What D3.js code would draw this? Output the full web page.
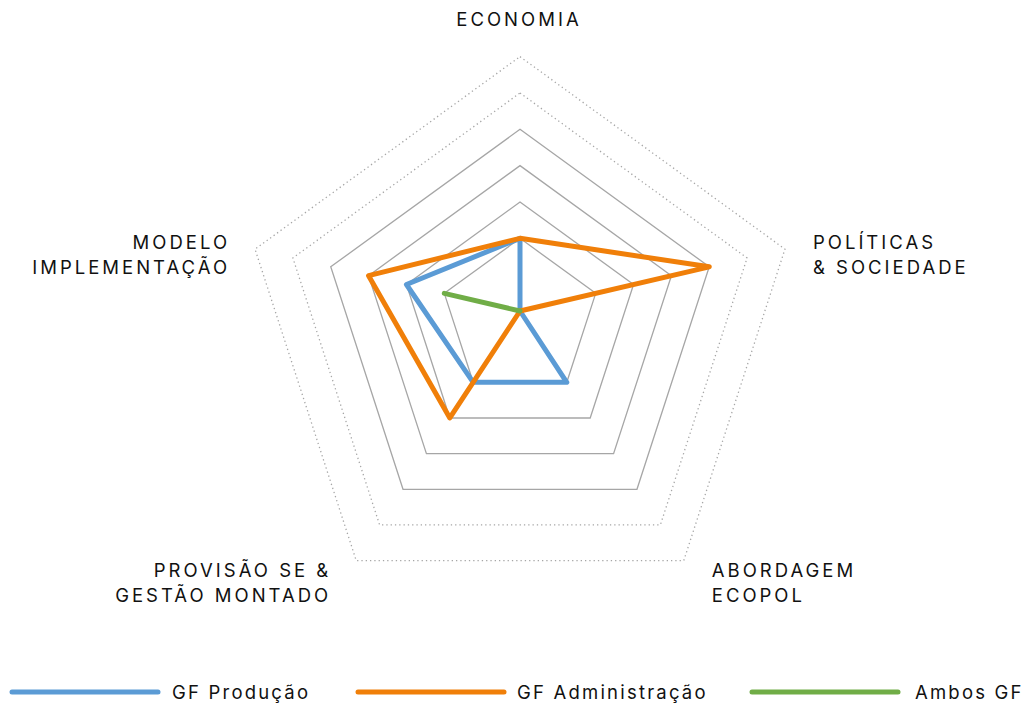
<!DOCTYPE html>
<html>
<head>
<meta charset="utf-8">
<script src="https://cdn.jsdelivr.net/npm/d3@7"></script>
<style>
  body { margin: 0; background: #fff; }
  text { font-family: Inter, "Noto Sans", sans-serif; fill: #111; }
</style>
</head>
<body>
<script>
var width = 1032, height = 708;

// axes, clockwise from the top
var categories = ["ECONOMIA", "POLÍTICAS & SOCIEDADE", "ABORDAGEM ECOPOL", "PROVISÃO SE & GESTÃO MONTADO", "MODELO IMPLEMENTAÇÃO"];
var categoryLines = [["ECONOMIA"], ["POLÍTICAS", "& SOCIEDADE"], ["ABORDAGEM", "ECOPOL"], ["PROVISÃO SE &", "GESTÃO MONTADO"], ["MODELO", "IMPLEMENTAÇÃO"]];

var seriesNames = ["GF Produção", "GF Administração", "Ambos GF"];
var seriesColors = ["#5b9bd5", "#f07f09", "#70ad47"];
var gfProducao = [2, 0, 2, 2, 3];
var gfAdministracao = [2, 5, 0, 3, 4];
var ambosGF = [0, 0, 0, 0, 2];

var gridLevels = [2, 3, 4, 5, 6, 7];
var dottedLevels = [6, 7];

var cx = 520, cy = 311;
var drift = 0.087; // the rings sit a little lower as they grow

var r = d3.scaleLinear().domain([0, 7]).range([0, 278.6]);
var angle = d3.scaleLinear().domain([0, categories.length]).range([0, 2 * Math.PI]);

function pt(v, i) {
    var R = r(v), a = angle(i);
    return [cx + R * Math.sin(a), cy - R * Math.cos(a) + drift * R];
}

var svg = d3.select("body").append("svg")
    .attr("width", width)
    .attr("height", height);

var line = d3.line().curve(d3.curveLinearClosed);

// grid rings
svg.append("g").selectAll("path")
    .data(gridLevels)
    .enter()
    .append("path")
    .attr("d", function(lv) { return line(categories.map(function(c, i) { return pt(lv, i); })); })
    .attr("fill", "none")
    .attr("stroke", "#a6a6a6")
    .attr("stroke-width", 1.3)
    .attr("stroke-dasharray", function(lv) { return dottedLevels.indexOf(lv) >= 0 ? "1.3,3" : null; });

// series
var series = [gfProducao, gfAdministracao, ambosGF];
svg.append("g").selectAll("path")
    .data(series)
    .enter()
    .append("path")
    .attr("d", function(d) { return line(d.map(function(v, i) { return pt(v, i); })); })
    .attr("fill", "none")
    .attr("stroke", function(d, i) { return seriesColors[i]; })
    .attr("stroke-width", 5)
    .attr("stroke-linejoin", "round")
    .attr("stroke-linecap", "round");

// axis labels
var labels = svg.append("g").selectAll("text")
    .data(categoryLines)
    .enter()
    .append("text")
    .style("font-size", "18.5px")
    .style("letter-spacing", "3px")
    .attr("text-anchor", function(d, i) {
        var s = Math.sin(angle(i));
        return Math.abs(s) < 0.01 ? "middle" : (s > 0 ? "start" : "end");
    })
    .attr("transform", function(d, i) {
        var p = pt(7, i), a = angle(i), s = Math.sin(a), c = Math.cos(a);
        if (Math.abs(s) < 0.01) return "translate(" + (p[0] - 1) + "," + (p[1] - 31) + ")";
        var x = p[0] + (s > 0 ? 28 : -25);
        var y = (c > 0 ? p[1] + 5 : p[1] + 22) - (d.length - 1) * 12.5 + 7;
        return "translate(" + x + "," + y + ")";
    });

labels.selectAll("tspan")
    .data(function(d) { return d; })
    .enter()
    .append("tspan")
    .attr("x", 0)
    .attr("dy", function(t, j) { return j ? 25 : 0; })
    .text(function(t) { return t; });

// legend
var legendX = [12, 358, 752];
var legend = svg.append("g").selectAll("g")
    .data(seriesNames)
    .enter()
    .append("g")
    .attr("transform", function(d, i) { return "translate(" + legendX[i] + ",692)"; });

legend.append("line")
    .attr("x1", 0).attr("x2", 146)
    .attr("stroke", function(d, i) { return seriesColors[i]; })
    .attr("stroke-width", 5)
    .attr("stroke-linecap", "round");

legend.append("text")
    .attr("x", function(d, i) { return i == 2 ? 163 : (i == 1 ? 159 : 160); })
    .attr("y", 7)
    .style("font-size", "18.5px")
    .style("letter-spacing", "2.2px")
    .text(function(d) { return d; });
</script>
</body>
</html>
